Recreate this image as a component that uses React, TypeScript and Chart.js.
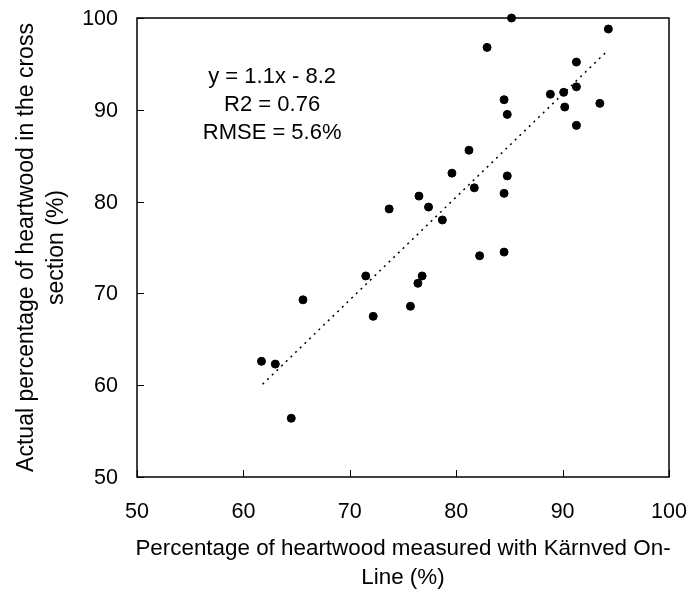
import React, { useEffect, useRef } from "react";
import { Chart, registerables } from "chart.js";

Chart.register(...registerables);

// Measured with Kärnved On-Line (%)
const xValues = [
  85.2, 94.3, 82.9, 91.3, 88.85, 90.1, 91.3, 90.2, 93.5, 91.3, 84.5, 84.8, 81.2, 79.6, 84.8, 81.7,
  84.5, 76.5, 77.4, 73.7, 78.7, 82.2, 84.5, 76.8, 76.4, 75.7, 71.5, 65.6, 72.2, 61.7, 63.0, 64.5,
];
// Actual percentage of heartwood (%)
const yValues = [
  100, 98.8, 96.8, 95.2, 91.7, 91.9, 92.5, 90.3, 90.7, 88.3, 91.1, 89.5, 85.6, 83.1, 82.8, 81.5,
  80.9, 80.6, 79.4, 79.2, 78.0, 74.1, 74.5, 71.9, 71.1, 68.6, 71.9, 69.3, 67.5, 62.6, 62.3, 56.4,
];
// Linear trend line end points
const trendX = [61.8, 94.1];
const trendY = [60.1, 96.3];

const xTickValues = [50, 60, 70, 80, 90, 100];
const yTickValues = [50, 60, 70, 80, 90, 100];
const xTickLabels = ["50", "60", "70", "80", "90", "100"];
const yTickLabels = ["50", "60", "70", "80", "90", "100"];

const xTitle = ["Percentage of heartwood measured with Kärnved On-", "Line (%)"];
const yTitle = ["Actual percentage of heartwood in the cross", "section (%)"];
const annotationLines = ["y = 1.1x - 8.2", "R2 = 0.76", "RMSE = 5.6%"];
const annotationAnchor = { x: 62.7, y: 93.6 };

const FONT = "'Liberation Sans', Arial, Helvetica, sans-serif";
const TICK_SIZE = 21.5;
const XTITLE_SIZE = 22.4;
const YTITLE_SIZE = 23;
const NOTE_SIZE = 22;

const framePlugin = {
  id: "framePlugin",
  afterDraw(chart: any) {
    const { ctx, chartArea } = chart;
    const xs = chart.scales.x;
    const ys = chart.scales.y;
    const { left, right, top, bottom } = chartArea;
    ctx.save();
    ctx.strokeStyle = "#000";
    ctx.lineWidth = 1.5;
    ctx.strokeRect(left, top, right - left, bottom - top);
    ctx.lineWidth = 1;
    ctx.beginPath();
    xTickValues.forEach((v) => {
      const px = Math.round(xs.getPixelForValue(v)) + 0.5;
      ctx.moveTo(px, bottom);
      ctx.lineTo(px, bottom - 7);
    });
    yTickValues.forEach((v) => {
      const py = Math.round(ys.getPixelForValue(v)) + 0.5;
      ctx.moveTo(left, py);
      ctx.lineTo(left + 7, py);
    });
    ctx.stroke();

    ctx.fillStyle = "#000";
    ctx.font = `${TICK_SIZE}px ${FONT}`;
    ctx.textBaseline = "middle";
    ctx.textAlign = "center";
    xTickValues.forEach((v, i) => {
      ctx.fillText(xTickLabels[i], xs.getPixelForValue(v), bottom + 35);
    });
    ctx.textAlign = "right";
    yTickValues.forEach((v, i) => {
      ctx.fillText(yTickLabels[i], left - 19, ys.getPixelForValue(v) + 1);
    });

    ctx.textAlign = "center";
    ctx.font = `${XTITLE_SIZE}px ${FONT}`;
    const cx = (left + right) / 2;
    xTitle.forEach((t, i) => {
      ctx.fillText(t, cx, bottom + 72 + i * 29);
    });
    ctx.font = `${YTITLE_SIZE}px ${FONT}`;
    const cy = (top + bottom) / 2;
    yTitle.forEach((t, i) => {
      ctx.save();
      ctx.translate(27 + i * 30, cy);
      ctx.rotate(-Math.PI / 2);
      ctx.fillText(t, 0, 0);
      ctx.restore();
    });

    ctx.font = `${NOTE_SIZE}px ${FONT}`;
    const ax = xs.getPixelForValue(annotationAnchor.x);
    const ay = ys.getPixelForValue(annotationAnchor.y);
    annotationLines.forEach((t, i) => {
      ctx.fillText(t, ax, ay + i * 28);
    });
    ctx.restore();
  },
};

export default function App() {
  const canvasRef = useRef<HTMLCanvasElement | null>(null);

  useEffect(() => {
    if (!canvasRef.current) return;
    const points = xValues.map((x, i) => ({ x, y: yValues[i] }));
    const trend = trendX.map((x, i) => ({ x, y: trendY[i] }));
    const chart = new Chart(canvasRef.current, {
      type: "scatter",
      data: {
        datasets: [
          {
            type: "line",
            data: trend,
            borderColor: "#000",
            borderWidth: 1.5,
            borderDash: [2, 4.5],
            pointRadius: 0,
            fill: false,
          } as any,
          {
            data: points,
            backgroundColor: "#000",
            borderColor: "#000",
            pointRadius: 4,
            pointHoverRadius: 4,
            clip: false,
          } as any,
        ],
      },
      options: {
        animation: false,
        responsive: false,
        devicePixelRatio: 1,
        layout: { padding: { top: 18, right: 23, left: 0, bottom: 0 } },
        plugins: {
          legend: { display: false },
          tooltip: { enabled: false },
        },
        scales: {
          x: {
            type: "linear",
            min: 50,
            max: 100,
            grid: { display: false, drawTicks: false },
            border: { display: false },
            ticks: { stepSize: 10, display: false },
            afterFit: (s: any) => {
              s.height = 116;
            },
          },
          y: {
            type: "linear",
            min: 50,
            max: 100,
            grid: { display: false, drawTicks: false },
            border: { display: false },
            ticks: { stepSize: 10, display: false },
            afterFit: (s: any) => {
              s.width = 137;
            },
          },
        },
      },
      plugins: [framePlugin],
    });
    return () => chart.destroy();
  }, []);

  return (
    <div style={{ position: "absolute", left: 0, top: 0, width: 692, height: 593, background: "#fff" }}>
      <canvas ref={canvasRef} width={692} height={593} style={{ width: 692, height: 593 }} />
    </div>
  );
}
